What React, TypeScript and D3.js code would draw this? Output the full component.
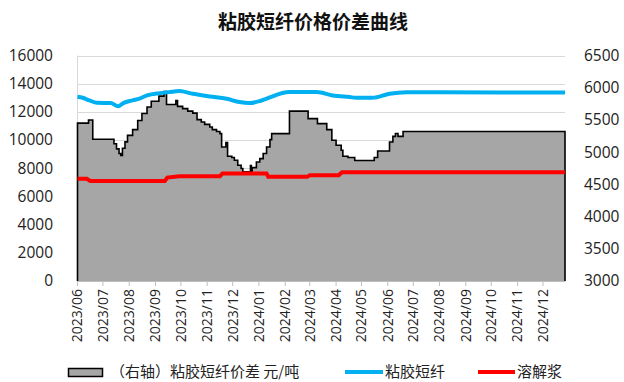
import React from 'react';
import * as d3 from 'd3';

// 粘胶短纤价差（右轴） 元/吨
const spreadDates = [
  '2023-06-01','2023-06-14','2023-06-19','2023-07-14','2023-07-17','2023-07-20','2023-07-22','2023-07-24','2023-07-27','2023-07-30',
  '2023-08-05','2023-08-11','2023-08-16','2023-08-22','2023-08-27','2023-09-05','2023-09-11','2023-09-14','2023-09-25','2023-09-27',
  '2023-10-03','2023-10-09','2023-10-15','2023-10-20','2023-10-25','2023-10-29','2023-11-04','2023-11-07','2023-11-12','2023-11-16',
  '2023-11-18','2023-11-23','2023-11-25','2023-11-30','2023-12-03','2023-12-07','2023-12-11','2023-12-13','2023-12-22','2023-12-23',
  '2023-12-24','2023-12-29','2024-01-02','2024-01-06','2024-01-10','2024-01-14','2024-01-16','2024-02-06','2024-02-28','2024-03-10',
  '2024-03-21','2024-03-27','2024-04-01','2024-04-07','2024-04-09','2024-04-15','2024-04-23','2024-05-16','2024-05-20','2024-06-03',
  '2024-06-07','2024-06-10','2024-06-13','2024-06-19','2024-12-27'
];
const spreadValues = [
  5450, 5500, 5200, 5130, 5050, 4980, 4950, 5060, 5160, 5260,
  5350, 5490, 5600, 5700, 5790, 5870, 5940, 5740, 5800, 5710,
  5675, 5637, 5606, 5504, 5467, 5431, 5390, 5349, 5320, 5287,
  5080, 5150, 4936, 4916, 4874, 4797, 4745, 4695, 4790, 4695,
  4760, 4848, 4900, 4978, 5080, 5194, 5287, 5637, 5520, 5442,
  5349, 5184, 5106, 5029, 4936, 4916, 4870, 4916, 5018, 5157,
  5245, 5290, 5245, 5320, 5320
];

// 粘胶短纤（左轴）
const viscoseDates = [
  '2023-06-01','2023-06-07','2023-06-15','2023-06-24','2023-07-10','2023-07-19','2023-07-25','2023-08-05','2023-08-13','2023-08-22',
  '2023-09-06','2023-09-17','2023-09-29','2023-10-15','2023-11-04','2023-11-24','2023-12-09','2023-12-21','2024-01-02','2024-01-10',
  '2024-02-06','2024-03-09','2024-03-28','2024-04-17','2024-04-25','2024-05-14','2024-06-03','2024-06-23','2024-08-02','2024-12-27'
];
const viscoseValues = [
  13070, 13000, 12814, 12640, 12623, 12400, 12623, 12814, 12934, 13168,
  13331, 13402, 13473, 13288, 13097, 12934, 12694, 12623, 12765, 12934,
  13402, 13402, 13168, 13050, 13000, 13000, 13288, 13400, 13390, 13380
];

// 溶解浆（左轴）
const pulpDates = [
  '2023-06-01','2023-06-12','2023-06-16','2023-09-12','2023-09-15','2023-09-29','2023-11-16','2023-11-19','2024-01-10','2024-01-12',
  '2024-02-27','2024-03-01','2024-04-04','2024-04-08','2024-12-27'
];
const pulpValues = [
  7250, 7250, 7100, 7100, 7340, 7440, 7440, 7620, 7620, 7390,
  7390, 7500, 7500, 7720, 7720
];

const leftTicks = [0, 2000, 4000, 6000, 8000, 10000, 12000, 14000, 16000];
const rightTicks = [3000, 3500, 4000, 4500, 5000, 5500, 6000, 6500];
const monthTicks = [
  '2023-06-01','2023-07-01','2023-08-01','2023-09-01','2023-10-01','2023-11-01','2023-12-01',
  '2024-01-01','2024-02-01','2024-03-01','2024-04-01','2024-05-01','2024-06-01','2024-07-01',
  '2024-08-01','2024-09-01','2024-10-01','2024-11-01','2024-12-01'
];
const domainDates = ['2023-06-01', '2024-12-27'];

const title = '粘胶短纤价格价差曲线';
const legendLabels = ['（右轴）粘胶短纤价差 元/吨', '粘胶短纤', '溶解浆'];

const W = 624;
const H = 382;
const M = { left: 77.5, right: 565, top: 55.5, bottom: 281 };

const parse = d3.timeParse('%Y-%m-%d');
const fmt = d3.timeFormat('%Y/%m');

const FONT = '"Open Sans", "Noto Sans", sans-serif';
const CJK = '"Noto Sans CJK SC", sans-serif';

export default function App() {
  const x = d3.scaleTime()
    .domain(domainDates.map(d => parse(d) as Date))
    .range([M.left, M.right]);
  const yL = d3.scaleLinear().domain([0, 16000]).range([M.bottom, M.top]);
  const yR = d3.scaleLinear().domain([3000, 6500]).range([M.bottom, M.top]);

  const spread: [Date, number][] = spreadDates.map((d, i) => [parse(d) as Date, spreadValues[i]]);
  const viscose: [Date, number][] = viscoseDates.map((d, i) => [parse(d) as Date, viscoseValues[i]]);
  const pulp: [Date, number][] = pulpDates.map((d, i) => [parse(d) as Date, pulpValues[i]]);

  const areaGen = d3.area<[Date, number]>()
    .x(d => x(d[0]))
    .y0(yR(3000))
    .y1(d => yR(d[1]))
    .curve(d3.curveStepAfter);

  const outline: [Date, number][] = [
    [spread[0][0], 3000],
    ...spread,
    [spread[spread.length - 1][0], 3000],
  ];
  const outlineGen = d3.line<[Date, number]>()
    .x(d => x(d[0]))
    .y(d => yR(d[1]))
    .curve(d3.curveStepAfter);

  const viscoseGen = d3.line<[Date, number]>()
    .x(d => x(d[0]))
    .y(d => yL(d[1]))
    .curve(d3.curveMonotoneX);
  const pulpGen = d3.line<[Date, number]>()
    .x(d => x(d[0]))
    .y(d => yL(d[1]))
    .curve(d3.curveLinear);

  const months = monthTicks.map(d => parse(d) as Date);

  return (
    <svg width={W} height={H} style={{ position: 'absolute', left: 0, top: 0, background: '#fff' }}>
      <rect x={0} y={0} width={W} height={H} fill="#fff" />
      <text x={313} y={29} textAnchor="middle" fontFamily={CJK} fontWeight="bold" fontSize={19} fill="#111">{title}</text>

      {/* gridlines */}
      {leftTicks.map(t => (
        <line key={'g' + t} x1={M.left} x2={M.right} y1={Math.round(yL(t)) + 0.5} y2={Math.round(yL(t)) + 0.5} stroke="#D9D9D9" strokeWidth={1} />
      ))}
      {/* left axis line */}
      <line x1={M.left} x2={M.left} y1={M.top} y2={M.bottom} stroke="#D9D9D9" />

      {/* area */}
      <path d={areaGen(spread) || ''} fill="#A6A6A6" />
      <path d={outlineGen(outline) || ''} fill="none" stroke="#000" strokeWidth={1.6} />

      {/* bottom axis */}
      <line x1={M.left} x2={M.right} y1={M.bottom + 0.5} y2={M.bottom + 0.5} stroke="#BFBFBF" />
      {months.map((m, i) => (
        <line key={'t' + i} x1={x(m)} x2={x(m)} y1={M.bottom} y2={M.bottom + 5} stroke="#BFBFBF" />
      ))}

      {/* lines */}
      <path d={viscoseGen(viscose) || ''} fill="none" stroke="#00B0F0" strokeWidth={4} />
      <path d={pulpGen(pulp) || ''} fill="none" stroke="#FF0000" strokeWidth={4} />

      {/* left ticks */}
      {leftTicks.map(t => (
        <text key={'l' + t} x={53} y={yL(t)} dy="0.35em" textAnchor="end" fontFamily={FONT} fontSize={15.5} fill="#222">{t}</text>
      ))}
      {/* right ticks */}
      {rightTicks.map(t => (
        <text key={'r' + t} x={584} y={yR(t)} dy="0.35em" textAnchor="start" fontFamily={FONT} fontSize={15.5} fill="#222">{t}</text>
      ))}
      {/* x labels */}
      {months.map((m, i) => (
        <text key={'x' + i} transform={`translate(${x(m)},${289}) rotate(-90)`} dy="0.35em" textAnchor="end" fontFamily={FONT} fontSize={14} fill="#222">{fmt(m)}</text>
      ))}

      {/* legend */}
      <rect x={68.5} y={368.5} width={34} height={8} fill="#A6A6A6" stroke="#000" strokeWidth={1.5} />
      <text x={110} y={372} dy="0.35em" fontFamily={CJK} fontSize={15} fill="#222">{legendLabels[0]}</text>
      <line x1={345} x2={383} y1={372} y2={372} stroke="#00B0F0" strokeWidth={4} />
      <text x={385} y={372} dy="0.35em" fontFamily={CJK} fontSize={15} fill="#222">{legendLabels[1]}</text>
      <line x1={478} x2={515} y1={372} y2={372} stroke="#FF0000" strokeWidth={4} />
      <text x={517} y={372} dy="0.35em" fontFamily={CJK} fontSize={15} fill="#222">{legendLabels[2]}</text>
    </svg>
  );
}
